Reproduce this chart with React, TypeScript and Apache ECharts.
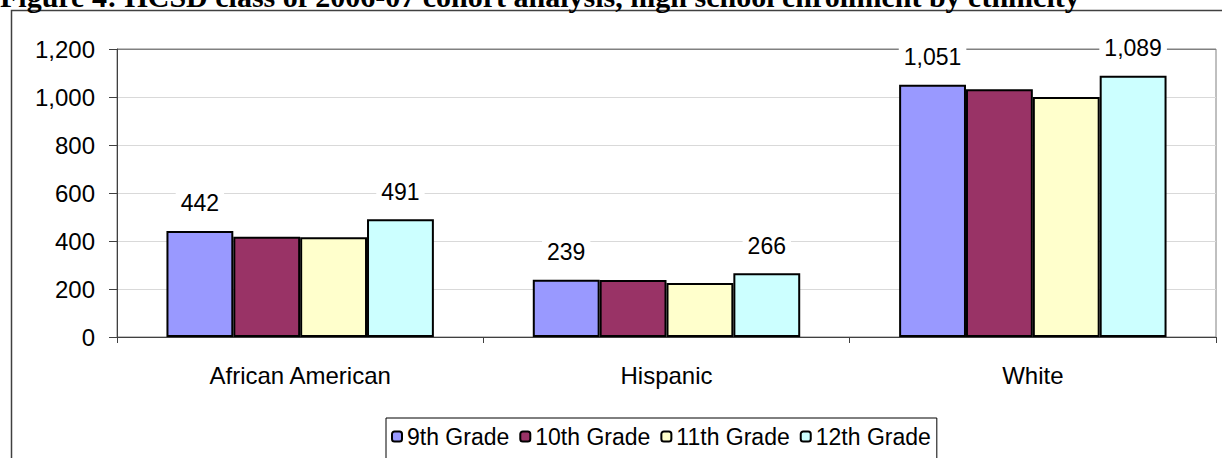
import React, { useEffect, useRef } from "react";
import * as echarts from "echarts";

const categories = ["African American", "Hispanic", "White"];
const seriesNames = ["9th Grade", "10th Grade", "11th Grade", "12th Grade"];
const grade9 = [442, 239, 1051];
const grade10 = [418, 238, 1032];
const grade11 = [416, 225, 1000];
const grade12 = [491, 266, 1089];
const seriesColors = ["#9999FF", "#993366", "#FFFFCC", "#CCFFFF"];
const labelledSeries = [true, false, false, true];
const titleText =
  "Figure 4: HCSD class of 2006-07 cohort analysis, high school enrollment by ethnicity";

const fmt = (v: number) => v.toLocaleString("en-US");

export default function App() {
  const ref = useRef<HTMLDivElement>(null);
  useEffect(() => {
    if (!ref.current) return;
    const chart = echarts.init(ref.current, null, { renderer: "svg" });
    const values = [grade9, grade10, grade11, grade12];
    const font = "'Liberation Sans', Arial, sans-serif";
    chart.setOption({
      animation: false,
      backgroundColor: "#ffffff",
      textStyle: { fontFamily: font },
      grid: {
        left: 117,
        right: 6,
        top: 49,
        bottom: 121,
        show: true,
        borderColor: "#808080",
        borderWidth: 1,
        backgroundColor: "transparent",
      },
      legend: {
        data: seriesNames,
        left: 386,
        top: 418,
        padding: [7, 6, 30, 5],
        borderColor: "#000",
        borderWidth: 1,
        itemWidth: 10,
        itemHeight: 10,
        itemGap: 10,
        textStyle: { fontSize: 23, color: "#000", fontFamily: font },
      },
      xAxis: {
        type: "category",
        data: categories,
        axisLine: { lineStyle: { color: "#404040", width: 1 } },
        axisTick: { show: true, length: 6, lineStyle: { color: "#404040" } },
        axisLabel: { fontSize: 24, color: "#000", margin: 26, fontFamily: font },
        splitLine: { show: false },
      },
      yAxis: {
        type: "value",
        min: 0,
        max: 1200,
        interval: 200,
        axisLine: { show: true, lineStyle: { color: "#404040", width: 1 } },
        axisTick: { show: true, length: 8, lineStyle: { color: "#404040" } },
        axisLabel: { fontSize: 24, color: "#000", margin: 22, formatter: (v: number) => fmt(v), fontFamily: font },
        splitLine: {
          show: true,
          lineStyle: {
            color: ["#d9d9d9", "#d9d9d9", "#d9d9d9", "#d9d9d9", "#d9d9d9", "#d9d9d9", "#808080"],
            width: 1,
          },
        },
      },
      series: seriesNames.map((name, i) => ({
        name,
        type: "bar",
        data: values[i],
        barGap: "0%",
        barCategoryGap: "27%",
        itemStyle: { color: seriesColors[i], borderColor: "#000", borderWidth: 2 },
        label: {
          show: labelledSeries[i],
          position: "top",
          distance: 14,
          fontSize: 23,
          color: "#000",
          fontFamily: font,
          backgroundColor: "#fff",
          padding: [2, 5, 2, 5],
          formatter: (p: any) => fmt(p.value),
        },
      })),
      graphic: [
        {
          type: "rect",
          shape: { x: 11.5, y: 10.5, width: 1400, height: 600 },
          style: { fill: "none", stroke: "#404040", lineWidth: 1.5 },
          z: 0,
          silent: true,
        },
        {
          type: "text",
          x: 0,
          y: 11,
          style: {
            text: titleText,
            font: "bold 30px 'Liberation Serif', 'Times New Roman', serif",
            fill: "#000",
            verticalAlign: "bottom",
            align: "left",
          },
          silent: true,
        },
      ],
    });
    return () => chart.dispose();
  }, []);
  return (
    <div
      ref={ref}
      style={{ position: "absolute", left: 0, top: 0, width: 1222, height: 458 }}
    />
  );
}
